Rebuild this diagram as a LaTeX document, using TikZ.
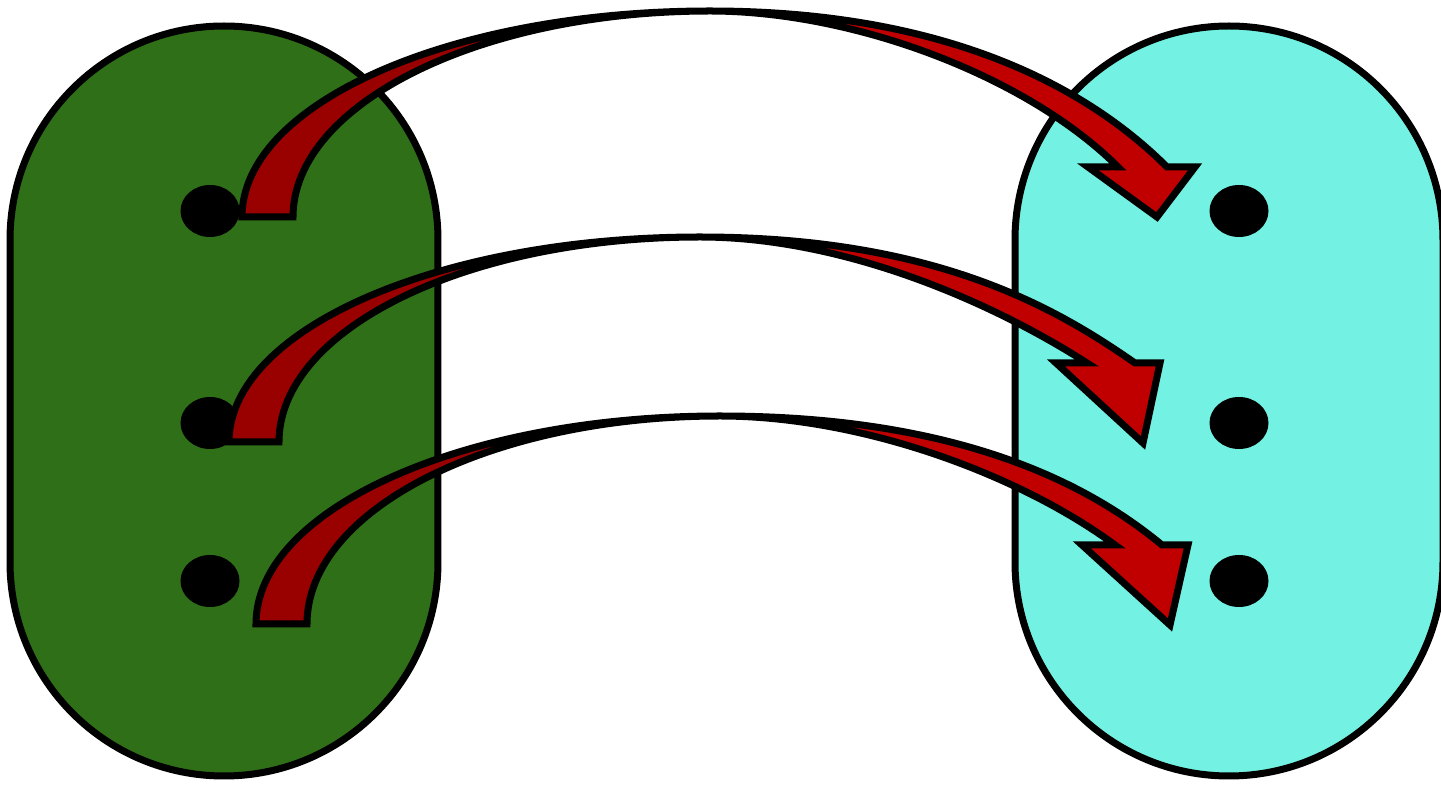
\documentclass[tikz,border=0pt]{standalone}
\usetikzlibrary{calc, shapes.geometric}

\definecolor{domgreen}{RGB}{47,111,24}
\definecolor{codcyan}{RGB}{115,241,226}
\definecolor{ribdark}{RGB}{153,0,0}
\definecolor{ribred}{RGB}{192,0,0}

\begin{document}
\begin{tikzpicture}[
  x=0.1mm, y=-0.1mm,
  setbox/.style ={rectangle, draw=black, line width=0.7mm, minimum width=42.8mm, minimum height=75mm, rounded corners=21.39mm, inner sep=0pt},
  elem/.style   ={ellipse, fill=black, minimum width=5.9mm, minimum height=5.2mm, inner sep=0pt},
  ribback/.style ={fill=ribdark},
  ribfront/.style={fill=ribred},
  rim/.style    ={draw=black, line width=0.7mm, line join=miter}
]
\path[use as bounding box, fill=white] (0,0) rectangle (1441,788);

% ---- the two sets ----
\node[setbox, fill=domgreen] (dom) at (224,401) {};
\node[setbox, fill=codcyan]  (cod) at (1229,401) {};

% ---- elements ----
\node[elem] (dom1) at (210,211) {};
\node[elem] (dom2) at (210,423) {};
\node[elem] (dom3) at (210,581) {};
\node[elem] (cod1) at (1239,211) {};
\node[elem] (cod2) at (1239,423) {};
\node[elem] (cod3) at (1239,581) {};

% ---- ribbon 1: dom1 -> cod1 ----
\coordinate (a1bl)  at ($(dom1)+(32,6)$);
\coordinate (a1br)  at ($(dom1)+(83,6)$);
\coordinate (a1top) at ($(dom1)+(500,-200)$);
\coordinate (a1nl)  at ($(cod1)+(-121,-44)$);
\coordinate (a1sr)  at ($(cod1)+(-72,-44)$);
\fill[ribback] (a1bl) -- (a1br) .. controls +(0,-113) and +(-230,0) .. (a1top)
  .. controls +(-258,0) and +(0,-114) .. (a1bl) -- cycle;
\fill[ribfront] (a1top) .. controls +(145,0) and +(-90,-90) .. (a1nl)
  -- ($(cod1)+(-151,-44)$) -- ($(cod1)+(-82,6)$) -- ($(cod1)+(-44,-44)$) -- (a1sr)
  .. controls +(-70,-70) and +(251,0) .. (a1top) -- cycle;
\draw[rim] (a1bl) -- (a1br) .. controls +(0,-113) and +(-230,0) .. (a1top)
  .. controls +(145,0) and +(-90,-90) .. (a1nl)
  -- ($(cod1)+(-151,-44)$) -- ($(cod1)+(-82,6)$) -- ($(cod1)+(-44,-44)$) -- (a1sr)
  .. controls +(-70,-70) and +(251,0) .. (a1top)
  .. controls +(-258,0) and +(0,-114) .. (a1bl) -- cycle;

% ---- ribbon 2: dom2 -> cod2 ----
\coordinate (a2bl)  at ($(dom2)+(19,19)$);
\coordinate (a2br)  at ($(dom2)+(69,19)$);
\coordinate (a2top) at ($(dom2)+(490,-186)$);
\coordinate (a2nl)  at ($(cod2)+(-152,-60)$);
\coordinate (a2sr)  at ($(cod2)+(-104,-60)$);
\fill[ribback] (a2bl) -- (a2br) .. controls +(0,-113) and +(-233,0) .. (a2top)
  .. controls +(-260,0) and +(0,-113) .. (a2bl) -- cycle;
\fill[ribfront] (a2top) .. controls +(140,0) and +(-100,-64) .. (a2nl)
  -- ($(cod2)+(-183,-60)$) -- ($(cod2)+(-96,20)$) -- ($(cod2)+(-79,-60)$) -- (a2sr)
  .. controls +(-75,-52) and +(240,0) .. (a2top) -- cycle;
\draw[rim] (a2bl) -- (a2br) .. controls +(0,-113) and +(-233,0) .. (a2top)
  .. controls +(140,0) and +(-100,-64) .. (a2nl)
  -- ($(cod2)+(-183,-60)$) -- ($(cod2)+(-96,20)$) -- ($(cod2)+(-79,-60)$) -- (a2sr)
  .. controls +(-75,-52) and +(240,0) .. (a2top)
  .. controls +(-260,0) and +(0,-113) .. (a2bl) -- cycle;

% ---- ribbon 3: dom3 -> cod3 ----
\coordinate (a3bl)  at ($(dom3)+(46,43)$);
\coordinate (a3br)  at ($(dom3)+(97,43)$);
\coordinate (a3top) at ($(dom3)+(510,-165)$);
\coordinate (a3nl)  at ($(cod3)+(-124,-36)$);
\coordinate (a3sr)  at ($(cod3)+(-77,-36)$);
\fill[ribback] (a3bl) -- (a3br) .. controls +(0,-115) and +(-228,0) .. (a3top)
  .. controls +(-256,0) and +(0,-115) .. (a3bl) -- cycle;
\fill[ribfront] (a3top) .. controls +(142,0) and +(-95,-70) .. (a3nl)
  -- ($(cod3)+(-157,-36)$) -- ($(cod3)+(-69,44)$) -- ($(cod3)+(-51,-36)$) -- (a3sr)
  .. controls +(-70,-58) and +(244,0) .. (a3top) -- cycle;
\draw[rim] (a3bl) -- (a3br) .. controls +(0,-115) and +(-228,0) .. (a3top)
  .. controls +(142,0) and +(-95,-70) .. (a3nl)
  -- ($(cod3)+(-157,-36)$) -- ($(cod3)+(-69,44)$) -- ($(cod3)+(-51,-36)$) -- (a3sr)
  .. controls +(-70,-58) and +(244,0) .. (a3top)
  .. controls +(-256,0) and +(0,-115) .. (a3bl) -- cycle;

\end{tikzpicture}
\end{document}
